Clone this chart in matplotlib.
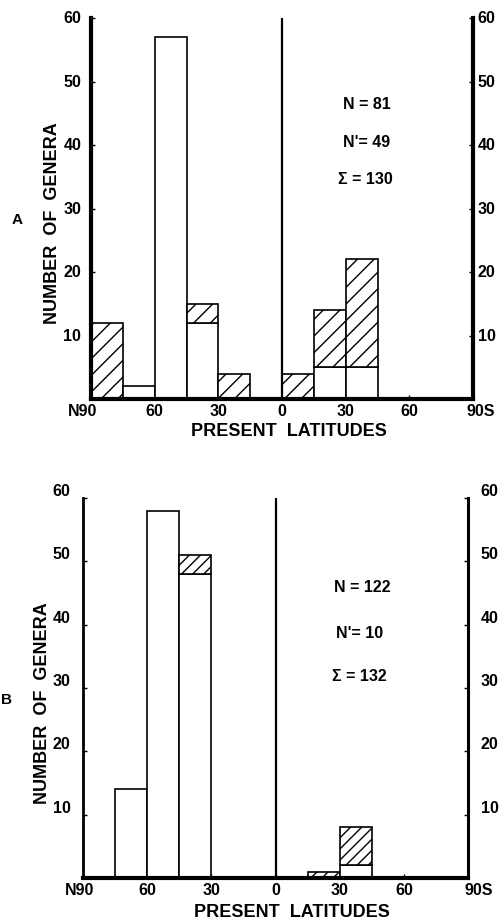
import matplotlib
matplotlib.use('Agg')
import matplotlib.pyplot as plt
import matplotlib.transforms as mtransforms

plt.rcParams['font.family'] = ['Liberation Sans', 'DejaVu Sans']
plt.rcParams['font.weight'] = 'bold'
plt.rcParams['hatch.linewidth'] = 1.0

# 15-degree latitude bins, from N90 (left) to 90S (right); x = -lat for the north
BIN_LEFT = [-90, -75, -60, -45, -30, -15, 0, 15, 30, 45, 60, 75]
BIN_WIDTH = 15

A_OPEN = [0, 2, 57, 12, 0, 0, 0, 5, 5, 0, 0, 0]
A_HATCH = [12, 0, 0, 3, 4, 0, 4, 9, 17, 0, 0, 0]
B_OPEN = [0, 14, 58, 48, 0, 0, 0, 0, 2, 0, 0, 0]
B_HATCH = [0, 0, 0, 3, 0, 0, 0, 1, 6, 0, 0, 0]

A_STATS = ['N = 81', "N'= 49", '\u03a3 = 130']
B_STATS = ['N = 122', "N'= 10", '\u03a3 = 132']

XTICKS = [-90, -60, -30, 0, 30, 60, 90]
XLABELS = ['N90', '60', '30', '0', '30', '60', '90S']
YTICKS = [10, 20, 30, 40, 50, 60]

W, H = 499, 920
fig = plt.figure(figsize=(W / 100, H / 100), dpi=100)


def px(x0, y0, x1, y1):
    return [x0 / W, 1 - y1 / H, (x1 - x0) / W, (y1 - y0) / H]


def shift(artist, dx, dy=0):
    artist.set_transform(artist.get_transform() +
                         mtransforms.ScaledTranslation(dx / 100, dy / 100, fig.dpi_scale_trans))


def panel(rect, opened, hatched, hatch, stats, stat_x, stat_y, spine_w,
          ypad, yva, n90_dx, s90_dx):
    ax = fig.add_axes(rect)
    for left, o, h in zip(BIN_LEFT, opened, hatched):
        if o > 0:
            ax.bar(left, o, width=BIN_WIDTH, align='edge', facecolor='white',
                   edgecolor='black', linewidth=1.2, zorder=2)
        if h > 0:
            ax.bar(left, h, bottom=o, width=BIN_WIDTH, align='edge',
                   facecolor='white', edgecolor='black', linewidth=1.2,
                   hatch=hatch, zorder=2)
    ax.plot([0, 0], [0, 60], color='black', linewidth=1.6, zorder=3)

    ax.set_xlim(-90, 90)
    ax.set_ylim(0, 60)
    ax.spines['top'].set_visible(False)
    ax.spines['left'].set_linewidth(spine_w[0])
    ax.spines['right'].set_linewidth(spine_w[1])
    ax.spines['bottom'].set_linewidth(spine_w[2])
    for s in ax.spines.values():
        s.set_capstyle('projecting')

    ax.set_xticks(XTICKS)
    ax.set_xticklabels(XLABELS, fontsize=11.5, fontweight='bold')
    ax.set_yticks(YTICKS)
    ax.tick_params(axis='x', direction='in', length=3, width=1, pad=3)
    ax.tick_params(axis='y', direction='in', length=3, width=1,
                   left=True, right=True, labelleft=True, labelright=True,
                   labelsize=11.5, pad=ypad[0])
    for t in ax.yaxis.get_major_ticks():
        shift(t.label2, ypad[1])
        t.label1.set_va(yva)
        t.label2.set_va(yva)
        t.label1.set_fontweight('bold')
        t.label2.set_fontweight('bold')

    labels = ax.get_xticklabels()
    shift(labels[0], n90_dx)
    shift(labels[-1], s90_dx)

    for s, x, y in zip(stats, stat_x, stat_y):
        ax.text(x, y, s, fontsize=11.5, fontweight='bold', ha='left', va='center')
    return ax


panel(px(91, 19, 473, 400), A_OPEN, A_HATCH, '//', A_STATS,
      [28.6, 28.6, 26.2], [46.6, 40.6, 34.8], (3.0, 3.0, 3.0),
      (7, -5), 'center', -8, 8)
fig.text(53 / W, 1 - 223 / H, 'NUMBER  OF  GENERA', rotation=90, fontsize=13,
         fontweight='bold', ha='center', va='center')
fig.text(17 / W, 1 - 220 / H, 'A', fontsize=11, fontweight='bold',
         ha='center', va='center')
fig.text(289 / W, 1 - 432 / H, 'PRESENT  LATITUDES', fontsize=13,
         fontweight='bold', ha='center', va='center')

panel(px(83, 499, 468, 879), B_OPEN, B_HATCH, '///', B_STATS,
      [27.5, 28.5, 26.6], [46.0, 38.8, 31.9], (2.0, 2.2, 3.0),
      (9, 0), 'bottom', -3, 11)
fig.text(43 / W, 1 - 703 / H, 'NUMBER  OF  GENERA', rotation=90, fontsize=13,
         fontweight='bold', ha='center', va='center')
fig.text(6 / W, 1 - 700 / H, 'B', fontsize=11, fontweight='bold',
         ha='center', va='center')
fig.text(292 / W, 1 - 913 / H, 'PRESENT  LATITUDES', fontsize=13,
         fontweight='bold', ha='center', va='center')

fig.savefig('out.png', dpi=100)
